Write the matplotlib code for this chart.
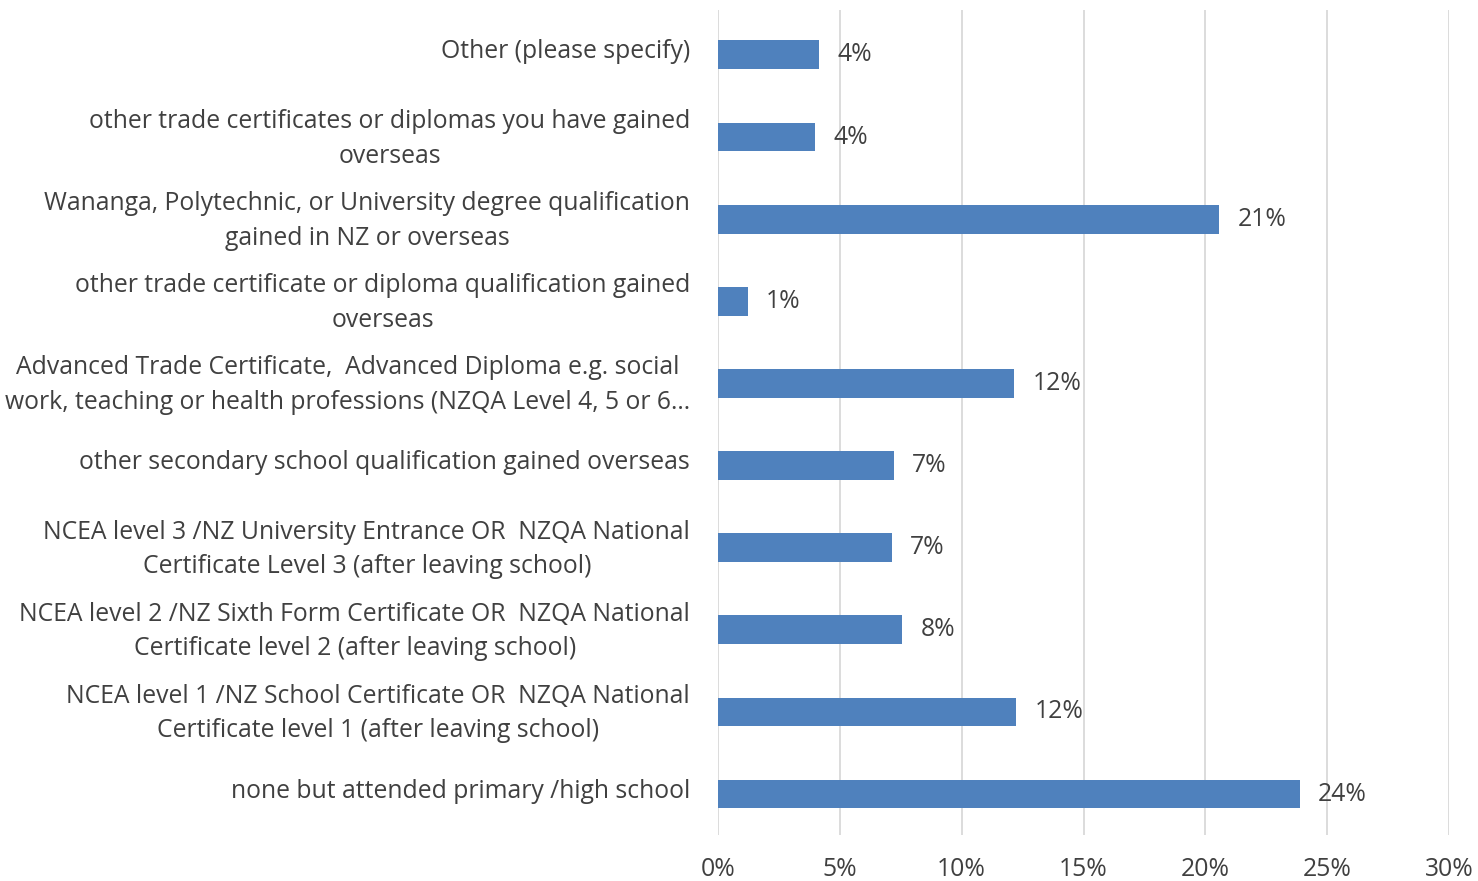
import matplotlib.pyplot as plt
import matplotlib.transforms as mtransforms
from matplotlib.ticker import FuncFormatter

categories = [
    "none but attended primary /high school",
    "NCEA level 1 /NZ School Certificate OR  NZQA National\nCertificate level 1 (after leaving school)",
    "NCEA level 2 /NZ Sixth Form Certificate OR  NZQA National\nCertificate level 2 (after leaving school)",
    "NCEA level 3 /NZ University Entrance OR  NZQA National\nCertificate Level 3 (after leaving school)",
    "other secondary school qualification gained overseas",
    "Advanced Trade Certificate,  Advanced Diploma e.g. social\nwork, teaching or health professions (NZQA Level 4, 5 or 6\u2026",
    "other trade certificate or diploma qualification gained\noverseas",
    "Wananga, Polytechnic, or University degree qualification\ngained in NZ or overseas",
    "other trade certificates or diplomas you have gained\noverseas",
    "Other (please specify)",
]
values = [0.2388, 0.1223, 0.0755, 0.0714, 0.0722, 0.1215, 0.0123, 0.2056, 0.0398, 0.0414]
ticks = [0, 0.05, 0.10, 0.15, 0.20, 0.25, 0.30]

plt.rcParams['font.family'] = ['Open Sans', 'DejaVu Sans']
text_color = "#404040"
fs = 17.8

fig = plt.figure(figsize=(14.78, 8.81), dpi=100)
ax = fig.add_axes([0.4858, 0.052, 0.4946, 0.937])

ypos = list(range(len(categories)))
ax.barh(ypos, values, height=0.35, color="#4F81BD", zorder=3)

for y, v in zip(ypos, values):
    ax.text(v + 0.0075, y, f"{round(v * 100):.0f}%", va="center", ha="left",
            fontsize=fs, color=text_color)

ax.set_xlim(0, 0.30)
ax.set_ylim(-0.5, 9.55)
ax.set_xticks(ticks)
ax.xaxis.set_major_formatter(FuncFormatter(lambda x, p: f"{x * 100:.0f}%"))
ax.set_yticks(ypos)
ax.set_yticklabels(categories, multialignment="center", linespacing=1.5)
ax.tick_params(axis="both", length=0, labelsize=fs, colors=text_color)
ax.tick_params(axis="y", pad=20)
ax.tick_params(axis="x", pad=16)
ax.grid(axis="x", color="#D9D9D9", linewidth=1.3, zorder=0)
for s in ax.spines.values():
    s.set_visible(False)

# nudge category labels up a little
shift = mtransforms.ScaledTranslation(0, 6 / 100, fig.dpi_scale_trans)
for lbl in ax.get_yticklabels():
    lbl.set_transform(lbl.get_transform() + shift)

fig.savefig("out.png", dpi=100)
